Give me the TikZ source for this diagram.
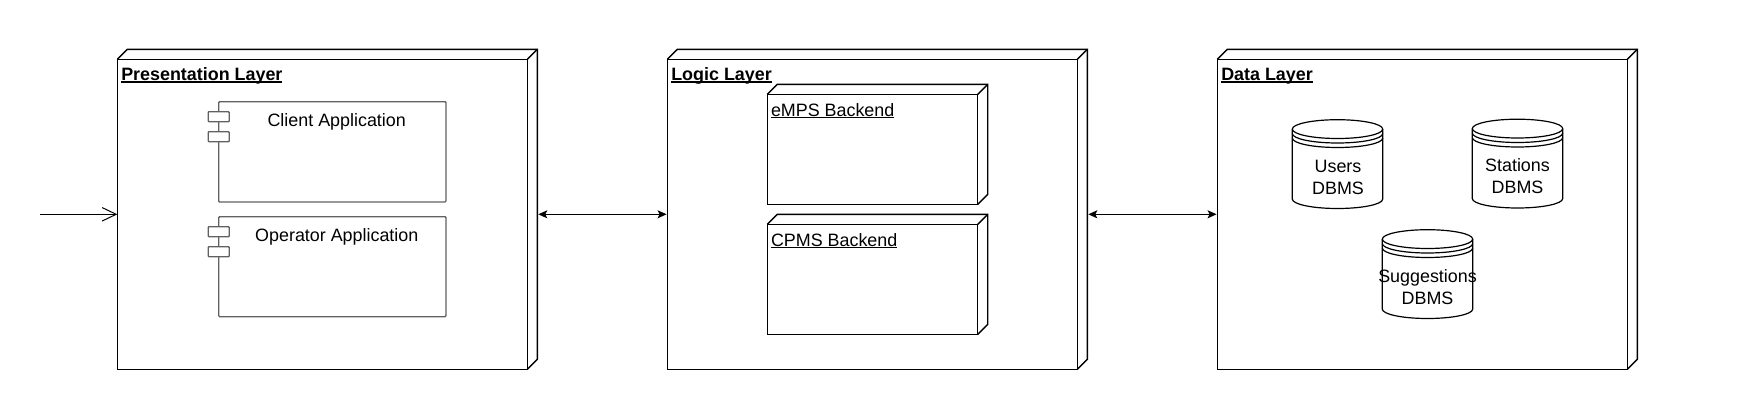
\documentclass[tikz,border=0pt]{standalone}
\usepackage{fontspec}
\setmainfont{Liberation Sans}
\usetikzlibrary{arrows.meta}
\newcommand\myul[2]{\setbox0\hbox{#2}\rlap{\rule[-1.8pt]{\wd0}{#1}}\box0}
\tikzset{
  every node/.style={font=\fontsize{17.9pt}{21.6pt}\selectfont, inner sep=0pt, outer sep=0pt},
  layerline/.style={line width=1.4pt, black, line join=miter},
  layer/.style={layerline, draw, fill=white, anchor=north west, minimum width=410pt, minimum height=310pt},
  sublayer/.style={layerline, draw, fill=white, anchor=north west, minimum width=210.4pt, minimum height=110pt},
  compline/.style={line width=1.4pt, draw=black!62},
  comp/.style={compline, fill=white, rounded corners=1pt, anchor=north west, minimum width=227.3pt, minimum height=100.3pt},
  dbline/.style={line width=1.2pt, black},
  conn/.style={line width=1.3pt, black, {Stealth[length=9pt,width=8pt,inset=2pt]}-{Stealth[length=9pt,width=8pt,inset=2pt]}},
  title/.style={anchor=base west, font=\fontsize{17.9pt}{21.6pt}\selectfont\bfseries},
  label/.style={anchor=base west},
}
\newcommand\depthbox[2]{% #1 node name, #2 depth
  \draw[layerline] (#1.north west) -- ++(#2,-#2) -| ([xshift=#2 pt,yshift=#2 pt]#1.south east) -- (#1.south east);
  \draw[layerline] (#1.north east) -- ++(#2,-#2);
}
\newcommand\compports[1]{%
  \draw[compline, fill=white, rounded corners=0.8pt] ([xshift=-10.5pt,yshift=-10pt]#1.north west) rectangle ++(21,10);
  \draw[compline, fill=white, rounded corners=0.8pt] ([xshift=-10.5pt,yshift=-30pt]#1.north west) rectangle ++(21,10);
}
\newcommand\dbdraw[3]{% name, center x, top y
  \node[minimum width=90.4pt, minimum height=89pt, anchor=north] (#1) at (#2,#3) {};
  \begin{scope}[shift={(#1.north)}]
    \draw[dbline, fill=white] (-45.2,9.4) -- (-45.2,79.4) arc[start angle=180,end angle=0,x radius=45.2,y radius=9.4] -- (45.2,9.4) arc[start angle=0,end angle=-180,x radius=45.2,y radius=9.4] -- cycle;
    \draw[dbline] (-45.2,9.4) arc[start angle=180,end angle=0,x radius=45.2,y radius=9.4];
    \draw[dbline] (-45.2,13.9) arc[start angle=180,end angle=0,x radius=45.2,y radius=9.4];
    \draw[dbline] (-45.2,18.4) arc[start angle=180,end angle=0,x radius=45.2,y radius=9.4];
  \end{scope}
}
\begin{document}
\begin{tikzpicture}[x=1pt,y=-1pt]
\useasboundingbox[fill=white] (0,0) rectangle (1754,410);

% Presentation layer
\node[layer] (pres) at (117.3,59.3) {};
\depthbox{pres}{10}
\node[title] (prest) at (121.3,80.7) {\myul{1.3pt}{Presentation Layer}};

\node[comp] (client) at (218.7,101.7) {};
\compports{client}
\node[label, anchor=base] (clientt) at (336.7,126) {Client Application};

\node[comp, minimum height=100pt] (oper) at (218.7,216.7) {};
\compports{oper}
\node[label, anchor=base] (opert) at (336.8,241) {Operator Application};

% Logic layer
\node[layer] (logic) at (667.3,59.3) {};
\depthbox{logic}{10}
\node[title] (logict) at (671.3,80.7) {\myul{1.3pt}{Logic Layer}};

\node[sublayer] (emps) at (767.3,94.3) {};
\depthbox{emps}{10}
\node[label] (empst) at (771,116) {\myul{1pt}{eMPS Backend}};

\node[sublayer] (cpms) at (767.3,224.3) {};
\depthbox{cpms}{10}
\node[label] (cpmst) at (771,246) {\myul{1pt}{CPMS Backend}};

% Data layer
\node[layer] (data) at (1217.3,59.3) {};
\depthbox{data}{10}
\node[title] (datat) at (1221.3,80.7) {\myul{1.3pt}{Data Layer}};

\dbdraw{users}{1337.5}{119.7}
\node[align=center, anchor=base] (userst) at (1338,194.3) {Users\\DBMS};
\dbdraw{stations}{1517.5}{119.2}
\node[align=center, anchor=base] (stationst) at (1517.5,193.3) {Stations\\DBMS};
\dbdraw{sugg}{1427.5}{229.7}
\node[align=center, anchor=base] (suggt) at (1427.5,304.3) {Suggestions\\DBMS};

% connectors
\coordinate (in) at (40,214.3);
\draw[line width=1pt, -{Straight Barb[length=14pt,width=13.5pt,line width=1pt]}] (in) -- (pres.west);
\draw[conn] ([xshift=11pt]pres.east) -- ([xshift=-0.7pt]logic.west);
\draw[conn] ([xshift=11pt]logic.east) -- ([xshift=-0.7pt]data.west);
\end{tikzpicture}
\end{document}
